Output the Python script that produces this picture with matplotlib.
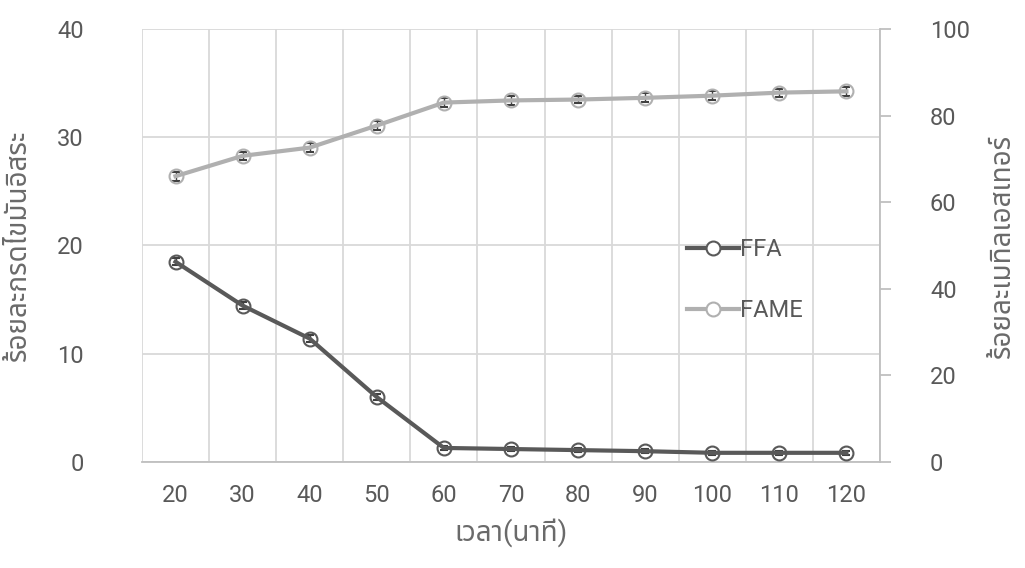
import matplotlib
matplotlib.use('Agg')
import matplotlib.pyplot as plt
from matplotlib.lines import Line2D
import numpy as np

plt.rcParams['font.family'] = ['Roboto', 'Noto Sans Thai', 'Noto Sans', 'DejaVu Sans']

# data
time_min = [20, 30, 40, 50, 60, 70, 80, 90, 100, 110, 120]
ffa = [18.5, 14.45, 11.4, 6.0, 1.3, 1.2, 1.1, 1.0, 0.85, 0.85, 0.85]
ffa_err = [0.3, 0.3, 0.3, 0.3, 0.2, 0.2, 0.2, 0.2, 0.2, 0.2, 0.2]
fame = [66.0, 70.7, 72.6, 77.7, 83.0, 83.5, 83.7, 84.1, 84.6, 85.3, 85.6]
fame_err = [1.0, 1.0, 1.0, 1.0, 1.0, 1.0, 0.8, 1.0, 1.0, 0.9, 1.0]

c_ffa = '#595959'
c_fame = '#b0b0b0'
c_txt = '#595959'
c_grid = '#d9d9d9'

fig = plt.figure(figsize=(10.25, 5.68), dpi=100)
ax = fig.add_axes([0.1385, 0.1866, 0.72, 0.7624])
x = np.arange(len(time_min))

ax.set_xlim(-0.5, len(time_min) - 0.5)
ax.set_ylim(0, 40)
ax.set_yticks([0, 10, 20, 30, 40])
ax.set_xticks(x)
ax.set_xticklabels([str(t) for t in time_min])
ax.set_xticks(np.arange(-0.5, len(time_min)), minor=True)
ax.grid(True, which='minor', axis='x', color=c_grid, lw=1.3)
ax.grid(True, which='major', axis='y', color=c_grid, lw=1.3)
ax.tick_params(which='both', length=0, labelsize=17, colors=c_txt)
ax.tick_params(axis='x', pad=16)
ax.tick_params(axis='y', pad=42)
for s in ['top', 'left', 'right']:
    ax.spines[s].set_visible(False)
ax.spines['bottom'].set_color('#bfbfbf')
ax.spines['bottom'].set_linewidth(1.3)
ax.set_axisbelow(True)

ax.errorbar(x, ffa, yerr=ffa_err, color=c_ffa, lw=3, marker='o', ms=10,
            mfc='none', mec=c_ffa, mew=1.5, ecolor='#404040', elinewidth=1,
            capsize=3, zorder=3)

ax.set_xlabel('เวลา(นาที)', fontsize=20, color='#6a6a6a', labelpad=8)
ax.set_ylabel('ร้อยละกรดไขมันอิสระ', fontsize=20, color='#6a6a6a', labelpad=18)

ax2 = ax.twinx()
ax2.set_ylim(0, 100)
ax2.set_yticks([0, 20, 40, 60, 80, 100])
ax2.tick_params(axis='y', length=8, width=1.3, color='#bfbfbf', labelsize=17,
                labelcolor=c_txt, pad=28)
for s in ['top', 'left', 'bottom']:
    ax2.spines[s].set_visible(False)
ax2.spines['right'].set_color('#bfbfbf')
ax2.spines['right'].set_linewidth(1.3)
ax2.errorbar(x, fame, yerr=fame_err, color=c_fame, lw=3, marker='o', ms=10,
             mfc='none', mec=c_fame, mew=1.5, ecolor='#404040', elinewidth=1,
             capsize=3, zorder=3)
ax2.set_ylabel('ร้อยละเมทิลเอสเทอร์', fontsize=20, color='#6a6a6a', labelpad=14)

handles = [Line2D([], [], color=c_ffa, lw=3, marker='o', ms=10, mfc='white', mec=c_ffa, mew=1.5),
           Line2D([], [], color=c_fame, lw=3, marker='o', ms=10, mfc='white', mec=c_fame, mew=1.5)]
leg = ax2.legend(handles, ['FFA', 'FAME'], loc='center left', bbox_to_anchor=(0.71, 0.42),
                 frameon=False, fontsize=17, labelcolor=c_txt, handlelength=2.2,
                 handletextpad=0.05, labelspacing=1.6)

fig.savefig('out.png', dpi=100)
